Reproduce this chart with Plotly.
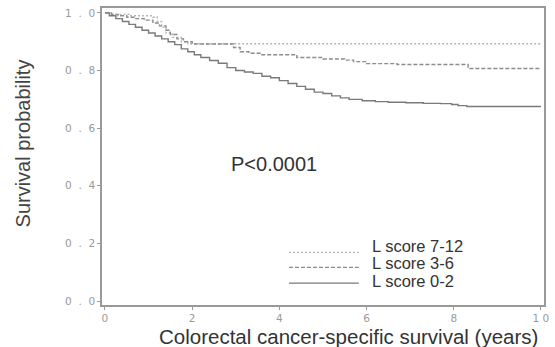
import plotly.graph_objects as go

# Kaplan-Meier step data
t_712 = [0, 0.15, 0.55, 1.1, 1.2, 1.3, 1.4, 1.55, 1.75, 1.9, 10]
s_712 = [1.0, 0.995, 0.99, 0.985, 0.97, 0.95, 0.93, 0.915, 0.90, 0.893, 0.893]

t_36 = [0, 0.15, 0.3, 0.5, 0.7, 0.9, 1.1, 1.25, 1.4, 1.5, 1.65, 1.8, 2.0, 2.95,
        3.1, 3.3, 3.6, 4.4, 5.0, 5.5, 5.7, 6.0, 6.7, 8.33, 10]
s_36 = [1.0, 0.995, 0.99, 0.985, 0.98, 0.975, 0.965, 0.955, 0.94, 0.925, 0.91,
        0.90, 0.892, 0.88, 0.865, 0.86, 0.855, 0.845, 0.84, 0.836, 0.831, 0.824,
        0.821, 0.807, 0.807]

t_02 = [0, 0.1, 0.25, 0.4, 0.55, 0.7, 0.85, 1.0, 1.15, 1.3, 1.45, 1.6, 1.75, 1.9,
        2.05, 2.2, 2.4, 2.6, 2.8, 3.0, 3.2, 3.4, 3.6, 3.8, 4.0, 4.2, 4.4, 4.6, 4.8,
        5.0, 5.2, 5.4, 5.6, 5.9, 6.2, 6.5, 6.9, 7.3, 7.7, 7.95, 8.1, 8.3, 10]
s_02 = [1.0, 0.99, 0.98, 0.97, 0.96, 0.95, 0.94, 0.93, 0.92, 0.91, 0.90, 0.89,
        0.875, 0.865, 0.855, 0.845, 0.835, 0.825, 0.81, 0.80, 0.795, 0.79, 0.78,
        0.775, 0.765, 0.755, 0.745, 0.735, 0.725, 0.72, 0.712, 0.705, 0.70, 0.695,
        0.692, 0.69, 0.688, 0.686, 0.685, 0.682, 0.678, 0.675, 0.675]

labels = ["L score 7-12", "L score 3-6", "L score 0-2"]
colors = ["#b4b4b4", "#8c8c8c", "#7a7a7a"]
dashes = ["2px,2px", "4px,2px", "solid"]

y_tickvals = [0, 0.2, 0.4, 0.6, 0.8, 1.0]
y_ticktext = ["0  .  0", "0  .  2", "0  .  4", "0  .  6", "0  .  8", "1  .  0"]
x_tickvals = [0, 2, 4, 6, 8, 10]
x_ticktext = ["0", "2", "4", "6", "8", "1 0"]

fig = go.Figure()
for t, s, c, d, n in zip([t_712, t_36, t_02], [s_712, s_36, s_02], colors, dashes, labels):
    fig.add_trace(go.Scatter(x=t, y=s, mode="lines", line_shape="hv",
                             line=dict(color=c, width=1.4, dash=d), name=n,
                             showlegend=False))

# manual legend (paper coordinates)
leg_line_y = [0.177, 0.127, 0.0736]
leg_text_y = [0.200, 0.142, 0.082]
for ly, ty, c, d, n in zip(leg_line_y, leg_text_y, colors, dashes, labels):
    fig.add_shape(type="line", xref="paper", yref="paper", x0=0.423, x1=0.581,
                  y0=ly, y1=ly, line=dict(color=c, width=1.2, dash=d))
    fig.add_annotation(xref="paper", yref="paper", x=0.606, y=ty, text=n,
                       showarrow=False, xanchor="left", yanchor="middle",
                       font=dict(family="Liberation Sans, Arial", size=16.5, color="#333"))

fig.add_annotation(xref="paper", yref="paper", x=0.390, y=0.475, text="P<0.0001",
                   showarrow=False, xanchor="center", yanchor="middle",
                   font=dict(family="Liberation Sans, Arial", size=20, color="#333"))
fig.add_annotation(xref="paper", yref="paper", x=0.5585, y=-0.0625,
                   text="Colorectal cancer-specific survival (years)",
                   showarrow=False, xanchor="center", yanchor="top", borderpad=0,
                   font=dict(family="Liberation Sans, Arial", size=20.5, color="#333"))
fig.add_annotation(xref="paper", yref="paper", x=-0.178, y=0.545,
                   text="Survival probability", textangle=-90,
                   showarrow=False, xanchor="center", yanchor="middle",
                   font=dict(family="Liberation Sans, Arial", size=20, color="#444"))

axis_common = dict(showgrid=False, zeroline=False, showline=True, linecolor="#999",
                   linewidth=1.6, mirror=True, ticks="outside", ticklen=3,
                   tickcolor="#999", tickwidth=1,
                   tickfont=dict(family="DejaVu Sans", size=10.5, color="#9a9a9a"))
fig.update_xaxes(range=[-0.068, 10.07], tickvals=x_tickvals, ticktext=x_ticktext,
                 **axis_common)
fig.update_yaxes(range=[-0.0138, 1.017], tickvals=y_tickvals, ticktext=y_ticktext,
                 **axis_common)
fig.update_layout(width=555, height=347, margin=dict(l=102, r=9, t=6, b=42),
                  paper_bgcolor="white", plot_bgcolor="white", showlegend=False)
fig.write_html("out.html")
